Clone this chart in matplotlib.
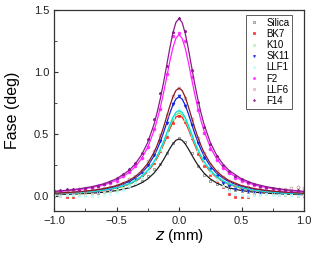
import matplotlib
matplotlib.use("Agg")
import matplotlib.pyplot as plt
from matplotlib.ticker import MultipleLocator

plt.rcParams["font.family"] = ["Liberation Sans", "DejaVu Sans"]

# measured points, z from -1.0 to 1.0 in steps of 0.05 mm
z_data = [round(-1.0 + 0.05 * i, 2) for i in range(41)]

silica = [0.005, 0.010, 0.002, 0.008, 0.015, 0.010, 0.018, 0.025, 0.030, 0.040, 0.052,
          0.060, 0.080, 0.098, 0.122, 0.160, 0.215, 0.262, 0.350, 0.430, 0.465,
          0.440, 0.350, 0.240, 0.170, 0.125, 0.100, 0.080, 0.060, 0.050, 0.040,
          0.030, 0.020, 0.022, 0.015, 0.018, 0.012, 0.010, 0.015, 0.008, 0.012]
bk7 = [0.015, 0.005, -0.010, -0.008, 0.012, 0.020, 0.025, 0.035, 0.040, 0.055, 0.070,
       0.085, 0.100, 0.125, 0.160, 0.205, 0.270, 0.360, 0.480, 0.590, 0.645,
       0.600, 0.465, 0.340, 0.245, 0.170, 0.120, 0.070, 0.020, -0.005, -0.010,
       -0.008, 0.015, 0.020, 0.025, 0.018, 0.020, 0.010, 0.015, 0.005, 0.000]
k10 = [0.010, 0.015, 0.008, 0.012, 0.018, 0.015, 0.020, 0.030, 0.035, 0.045, 0.055,
       0.075, 0.095, 0.115, 0.150, 0.210, 0.280, 0.375, 0.500, 0.620, 0.680,
       0.610, 0.480, 0.360, 0.265, 0.195, 0.150, 0.110, 0.085, 0.065, 0.050,
       0.040, 0.030, 0.025, 0.020, 0.018, 0.015, 0.020, 0.012, 0.015, 0.010]
sk11 = [0.020, 0.025, 0.030, 0.025, 0.030, 0.035, 0.040, 0.045, 0.055, 0.060, 0.075,
        0.090, 0.120, 0.150, 0.195, 0.250, 0.330, 0.445, 0.590, 0.740, 0.805,
        0.730, 0.575, 0.425, 0.310, 0.220, 0.160, 0.110, 0.080, 0.060, 0.050,
        0.045, 0.040, 0.035, 0.030, 0.030, 0.025, 0.030, 0.025, 0.020, 0.025]
llf1 = [0.010, 0.005, 0.010, 0.008, 0.005, 0.000, 0.002, 0.005, 0.010, 0.020, 0.030,
        0.050, 0.080, 0.110, 0.150, 0.200, 0.280, 0.385, 0.510, 0.640, 0.700,
        0.630, 0.500, 0.370, 0.270, 0.190, 0.130, 0.080, 0.040, 0.020, 0.010,
        0.005, 0.008, 0.012, 0.015, 0.010, 0.008, 0.012, 0.010, 0.005, 0.008]
f2 = [0.040, 0.045, 0.040, 0.050, 0.055, 0.058, 0.065, 0.080, 0.095, 0.110, 0.125,
      0.160, 0.195, 0.245, 0.310, 0.400, 0.540, 0.700, 0.980, 1.290, 1.310,
      1.250, 0.960, 0.690, 0.510, 0.380, 0.290, 0.230, 0.185, 0.150, 0.125,
      0.105, 0.090, 0.075, 0.065, 0.058, 0.050, 0.045, 0.040, 0.038, 0.035]
llf6 = [0.030, 0.025, 0.035, 0.030, 0.040, 0.045, 0.050, 0.055, 0.065, 0.075, 0.090,
        0.110, 0.135, 0.165, 0.210, 0.280, 0.365, 0.490, 0.650, 0.805, 0.875,
        0.790, 0.625, 0.470, 0.345, 0.260, 0.200, 0.155, 0.120, 0.100, 0.080,
        0.070, 0.060, 0.055, 0.050, 0.048, 0.055, 0.060, 0.065, 0.070, 0.068]
f14 = [0.045, 0.050, 0.055, 0.060, 0.050, 0.065, 0.070, 0.085, 0.100, 0.115, 0.145,
       0.175, 0.220, 0.270, 0.350, 0.460, 0.620, 0.830, 1.050, 1.320, 1.435,
       1.330, 1.020, 0.760, 0.560, 0.420, 0.320, 0.250, 0.200, 0.165, 0.140,
       0.115, 0.095, 0.085, 0.070, 0.065, 0.055, 0.050, 0.045, 0.050, 0.045]

# fitted curves, read at these z positions
z_fit = [-1.0, -0.9, -0.8, -0.7, -0.6, -0.5, -0.4, -0.35, -0.3, -0.25, -0.2, -0.175,
         -0.15, -0.125, -0.1, -0.075, -0.05, -0.025, 0.0, 0.025, 0.05, 0.075, 0.1,
         0.125, 0.15, 0.175, 0.2, 0.25, 0.3, 0.35, 0.4, 0.5, 0.6, 0.7, 0.8, 0.9, 1.0]

fit_silica = [0.012, 0.015, 0.019, 0.024, 0.032, 0.045, 0.067, 0.084, 0.107, 0.139, 0.186,
              0.217, 0.252, 0.292, 0.336, 0.381, 0.421, 0.450, 0.460, 0.450, 0.421, 0.381,
              0.336, 0.292, 0.252, 0.217, 0.186, 0.139, 0.107, 0.084, 0.067, 0.045, 0.032,
              0.024, 0.019, 0.015, 0.012]
fit_bk7 = [0.018, 0.021, 0.027, 0.034, 0.046, 0.064, 0.094, 0.118, 0.151, 0.197, 0.263,
           0.306, 0.356, 0.413, 0.475, 0.539, 0.595, 0.636, 0.650, 0.636, 0.595, 0.539,
           0.475, 0.413, 0.356, 0.306, 0.263, 0.197, 0.151, 0.118, 0.094, 0.064, 0.046,
           0.034, 0.027, 0.021, 0.018]
fit_k10 = [0.018, 0.022, 0.027, 0.036, 0.047, 0.066, 0.097, 0.122, 0.155, 0.203, 0.271,
           0.316, 0.367, 0.425, 0.490, 0.555, 0.614, 0.655, 0.670, 0.655, 0.614, 0.555,
           0.490, 0.425, 0.367, 0.316, 0.271, 0.203, 0.155, 0.122, 0.097, 0.066, 0.047,
           0.036, 0.027, 0.022, 0.018]
fit_sk11 = [0.022, 0.026, 0.033, 0.042, 0.056, 0.078, 0.116, 0.146, 0.186, 0.242, 0.324,
            0.377, 0.438, 0.508, 0.585, 0.663, 0.733, 0.782, 0.800, 0.782, 0.733, 0.663,
            0.585, 0.508, 0.438, 0.377, 0.324, 0.242, 0.186, 0.146, 0.116, 0.078, 0.056,
            0.042, 0.033, 0.026, 0.022]
fit_llf1 = [0.019, 0.023, 0.028, 0.037, 0.048, 0.068, 0.100, 0.126, 0.160, 0.209, 0.279,
            0.325, 0.378, 0.438, 0.504, 0.572, 0.632, 0.675, 0.690, 0.675, 0.632, 0.572,
            0.504, 0.438, 0.378, 0.325, 0.279, 0.209, 0.160, 0.126, 0.100, 0.068, 0.048,
            0.037, 0.028, 0.023, 0.019]
fit_f2 = [0.035, 0.043, 0.053, 0.069, 0.091, 0.127, 0.189, 0.237, 0.302, 0.394, 0.527,
          0.612, 0.712, 0.826, 0.950, 1.078, 1.191, 1.271, 1.300, 1.271, 1.191, 1.078,
          0.950, 0.826, 0.712, 0.612, 0.527, 0.394, 0.302, 0.237, 0.189, 0.127, 0.091,
          0.069, 0.053, 0.043, 0.035]
fit_llf6 = [0.023, 0.029, 0.036, 0.046, 0.061, 0.085, 0.126, 0.158, 0.202, 0.264, 0.352,
            0.410, 0.477, 0.552, 0.636, 0.721, 0.797, 0.851, 0.870, 0.851, 0.797, 0.721,
            0.636, 0.552, 0.477, 0.410, 0.352, 0.264, 0.202, 0.158, 0.126, 0.085, 0.061,
            0.046, 0.036, 0.029, 0.023]
fit_f14 = [0.039, 0.047, 0.059, 0.076, 0.100, 0.140, 0.207, 0.260, 0.332, 0.433, 0.579,
           0.674, 0.784, 0.908, 1.045, 1.185, 1.310, 1.399, 1.430, 1.399, 1.310, 1.185,
           1.045, 0.908, 0.784, 0.674, 0.579, 0.433, 0.332, 0.260, 0.207, 0.140, 0.100,
           0.076, 0.059, 0.047, 0.039]

labels = ["Silica", "BK7", "K10", "SK11", "LLF1", "F2", "LLF6", "F14"]
data = [silica, bk7, k10, sk11, llf1, f2, llf6, f14]
fits = [fit_silica, fit_bk7, fit_k10, fit_sk11, fit_llf1, fit_f2, fit_llf6, fit_f14]

# marker style per sample: (marker, face, edge), and fit line colour
styles = [("s", "none", "#777777"), ("s", "#ff3030", "#ff3030"), ("s", "#c0f0c0", "#c0f0c0"),
          ("v", "#2030e0", "#2030e0"), ("s", "#c0ffff", "#c0ffff"), ("o", "#ff30ff", "#ff30ff"),
          ("o", "none", "#c89090"), ("*", "#902090", "#902090")]
line_colors = ["#202020", "#ff2020", "#70e070", "#1020e0", "#00e0e0", "#ff20ff", "#8b1a1a", "#8b1a8b"]

fig = plt.figure(figsize=(3.16, 2.54), dpi=100)
ax = fig.add_axes([0.171, 0.169, 0.791, 0.792])

for y, fy, lab, (m, fc, ec), lc in zip(data, fits, labels, styles, line_colors):
    ax.plot(z_data, y, ls="none", marker=m, ms=2.1, mfc=fc, mec=ec, mew=0.5, label=lab)
    ax.plot(z_fit, fy, color=lc, lw=0.9)

ax.set_xlim(-1.0, 1.0)
ax.set_ylim(-0.12, 1.5)
ax.xaxis.set_major_locator(MultipleLocator(0.5))
ax.xaxis.set_minor_locator(MultipleLocator(0.25))
ax.yaxis.set_major_locator(MultipleLocator(0.5))
ax.yaxis.set_minor_locator(MultipleLocator(0.25))
ax.tick_params(which="both", direction="in", labelsize=8, colors="#333333", labelcolor="#222222")
ax.tick_params(which="major", length=3, width=0.8)
ax.tick_params(which="minor", length=2, width=0.6)
for s in ax.spines.values():
    s.set_color("#333333")
    s.set_linewidth(0.9)

ax.set_xlabel("$\\it{z}$ (mm)", fontsize=11, labelpad=1)
ax.set_ylabel("Fase (deg)", fontsize=11.5, labelpad=10)

leg = ax.legend(loc="upper right", bbox_to_anchor=(0.972, 1.0), fontsize=7, frameon=True,
                fancybox=False, edgecolor="#333333", labelspacing=0.12, handlelength=1.2,
                handletextpad=0.6, borderpad=0.3, markerscale=0.7)
leg.get_frame().set_linewidth(0.7)

fig.savefig("out.png", dpi=100)
